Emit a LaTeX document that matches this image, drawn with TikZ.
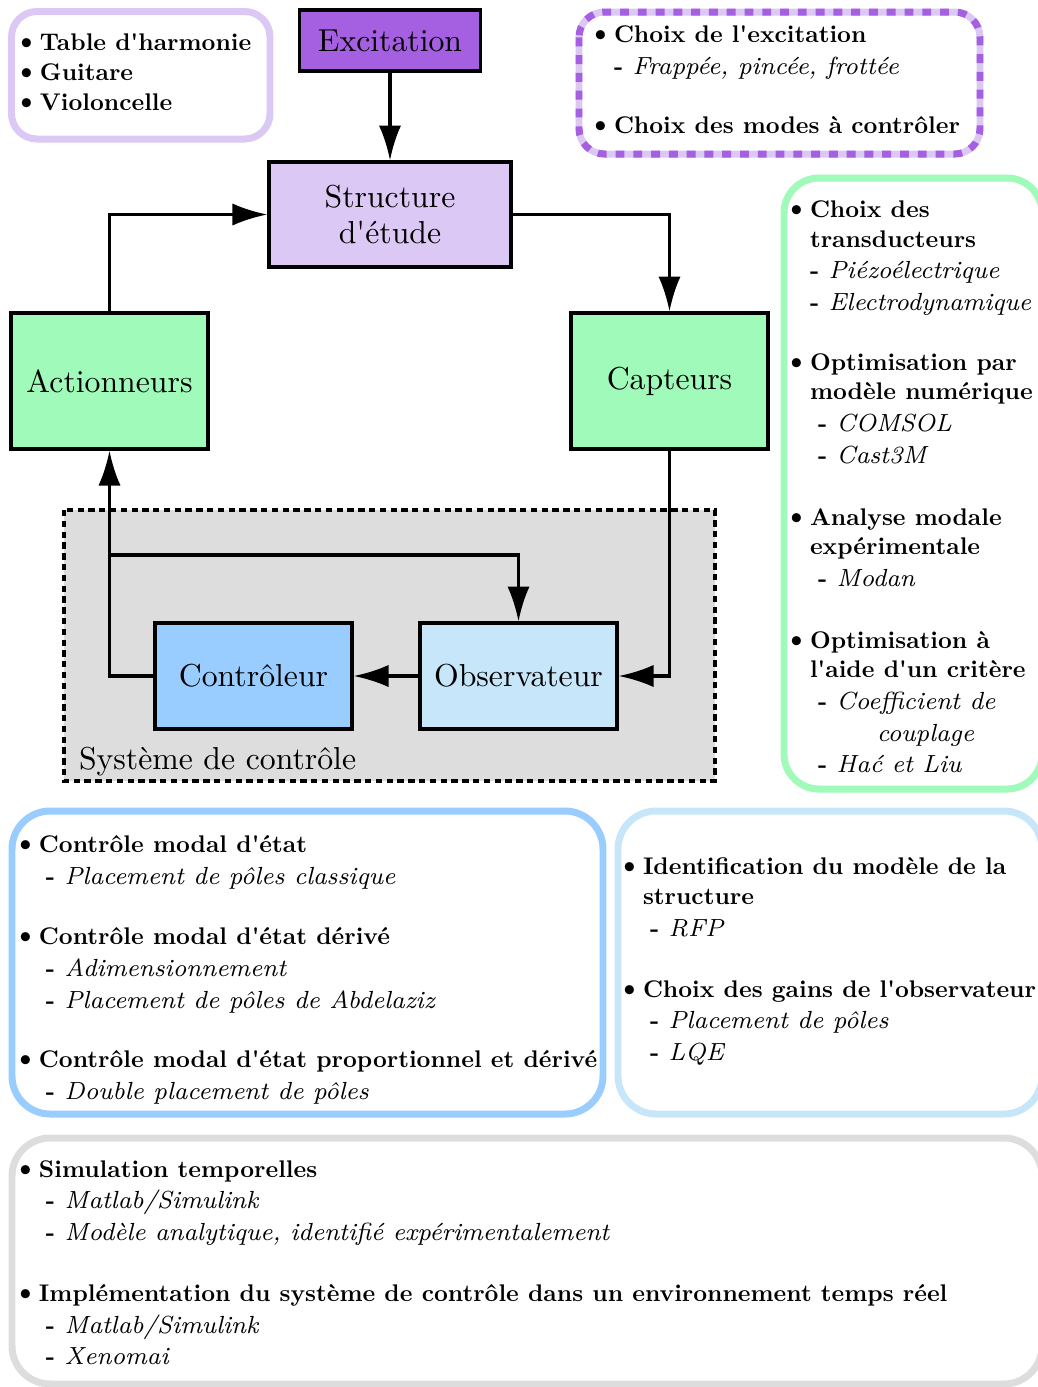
\documentclass[tikz,border=0pt]{standalone}
\usepackage{fontspec}
\usepackage{graphicx}
\usetikzlibrary{arrows.meta}
\definecolor{cpurple}{HTML}{A55FE1}
\definecolor{clav}{HTML}{DCC8F5}
\definecolor{cgreen}{HTML}{A0FAB9}
\definecolor{cblue}{HTML}{99CCFF}
\definecolor{clblue}{HTML}{C8E6FA}
\definecolor{cgrey}{HTML}{DDDDDD}
\newcommand\apos{\textquotesingle}
\newcommand\bft[1]{\scalebox{0.758}{\fontsize{10}{12}\selectfont\bfseries #1}}
\newcommand\its{\fontsize{7.8}{9}\selectfont\mdseries\itshape}
\newcounter{tl}
\newcommand\myB[3]{\stepcounter{tl}\node[txt] (b\thetl) at (#1,#2) {\bft{#3}};
  \node[txt,anchor=base east] (bb\thetl) at ([xshift=-0.4pt]b\thetl.base west) {\fontsize{10}{12}\selectfont\textbullet};}
\newcommand\myC[3]{\stepcounter{tl}\node[txt] (c\thetl) at (#1,#2) {\bft{#3}};}
\newcommand\myD[3]{\stepcounter{tl}\node[txt] (d\thetl) at (#1,#2) {\bft{-}\hspace{3pt}{\its #3}};}
\newcommand\myI[3]{\stepcounter{tl}\node[txt] (i\thetl) at (#1,#2) {\its #3};}
\begin{document}
\begin{tikzpicture}[x=0.315pt,y=-0.315pt,
  box/.style={draw,line width=1pt,inner sep=0pt,font=\fontsize{10}{12}\selectfont,align=center},
  conn/.style={line width=1pt,-{Latex[length=11pt,width=7pt]}},
  txt/.style={anchor=base west,inner sep=0pt,outer sep=0pt},
  frame/.style={line width=2.2pt}]
\useasboundingbox (0,0) rectangle (1038,1387);
% control system area
\draw[fill=cgrey,line width=1pt,dash pattern=on 2pt off 1.4pt] (64,510) rectangle (715,781);
\node[txt,font=\fontsize{10}{12}\selectfont] (syslab) at (79,769) {Système de contrôle};
% main nodes
\node[box,fill=cpurple,minimum width=181*0.315pt,minimum height=61*0.315pt] (exc) at (390,40.5) {Excitation};
\node[box,fill=clav,minimum width=242*0.315pt,minimum height=105*0.315pt] (str) at (390,214.5) {Structure\\[-0.6pt]d\apos étude};
\node[box,fill=cgreen,minimum width=197*0.315pt,minimum height=136*0.315pt] (act) at (109.5,381) {Actionneurs};
\node[box,fill=cgreen,minimum width=197*0.315pt,minimum height=136*0.315pt] (cap) at (669.5,381) {Capteurs};
\node[box,fill=cblue,minimum width=197*0.315pt,minimum height=106*0.315pt] (ctl) at (253.5,676) {Contrôleur};
\node[box,fill=clblue,minimum width=197*0.315pt,minimum height=106*0.315pt] (obs) at (518.5,676) {Observateur};
% connectors
\draw[conn] (exc.south) -- (str.north);
\draw[conn] (act.north) |- (str.west);
\draw[conn] (str.east) -| (cap.north);
\draw[conn] (cap.south) |- (obs.east);
\draw[conn] (obs.west) -- (ctl.east);
\draw[conn] (ctl.west) -| (act.south);
\coordinate (br) at (109.5,555);
\draw[conn] (br) -| (obs.north);
% frames
\draw[frame,clav,rounded corners=8pt] (11.5,11.5) rectangle (270,139);
\draw[frame,clav,rounded corners=8pt] (579,12) rectangle (980,154);
\draw[frame,cpurple,rounded corners=8pt,dash pattern=on 2.8pt off 2.8pt] (579,12) rectangle (980,154);
\draw[frame,cgreen,rounded corners=11pt] (784,178) rectangle (1042,789);
\draw[frame,cblue,rounded corners=12pt] (12,811) rectangle (603,1114);
\draw[frame,clblue,rounded corners=12pt] (618,811) rectangle (1042,1114);
\draw[frame,cgrey,rounded corners=12pt] (12,1138) rectangle (1042,1384);
% box 1
\myB{40}{50}{Table d\apos harmonie}
\myB{40}{80}{Guitare}
\myB{40}{110}{Violoncelle}
% box 2
\myB{614}{42}{Choix de l\apos excitation}
\myD{614}{74}{Frappée, pincée, frottée}
\myB{614}{133}{Choix des modes à contrôler}
% box 3
\myB{810}{217}{Choix des}
\myC{810}{247}{transducteurs}
\myD{810}{278}{Piézoélectrique}
\myD{810}{310}{Electrodynamique}
\myB{810}{370}{Optimisation par}
\myC{810}{399}{modèle numérique}
\myD{818}{431}{COMSOL}
\myD{818}{463}{Cast3M}
\myB{810}{525}{Analyse modale}
\myC{810}{554}{expérimentale}
\myD{818}{586}{Modan}
\myB{810}{648}{Optimisation à}
\myC{810}{677}{l\apos aide d\apos un critère}
\myD{818}{709}{Coefficient de}
\myI{877}{741}{couplage}
\myD{818}{772}{Hać et Liu}
% box 4
\myB{39}{852}{Contrôle modal d\apos état}
\myD{46}{884}{Placement de pôles classique}
\myB{39}{944}{Contrôle modal d\apos état dérivé}
\myD{46}{976}{Adimensionnement}
\myD{46}{1008}{Placement de pôles de Abdelaziz}
\myB{39}{1067}{Contrôle modal d\apos état proportionnel et dérivé}
\myD{46}{1099}{Double placement de pôles}
% box 5
\myB{643}{874}{Identification du modèle de la}
\myC{643}{904}{structure}
\myD{650}{936}{RFP}
\myB{643}{997}{Choix des gains de l\apos observateur}
\myD{650}{1028}{Placement de pôles}
\myD{650}{1060}{LQE}
% box 6
\myB{39}{1177}{Simulation temporelles}
\myD{46}{1208}{Matlab/Simulink}
\myD{46}{1240}{Modèle analytique, identifié expérimentalement}
\myB{39}{1301}{Implémentation du système de contrôle dans un environnement temps réel}
\myD{46}{1333}{Matlab/Simulink}
\myD{46}{1364}{Xenomai}
\end{tikzpicture}
\end{document}
